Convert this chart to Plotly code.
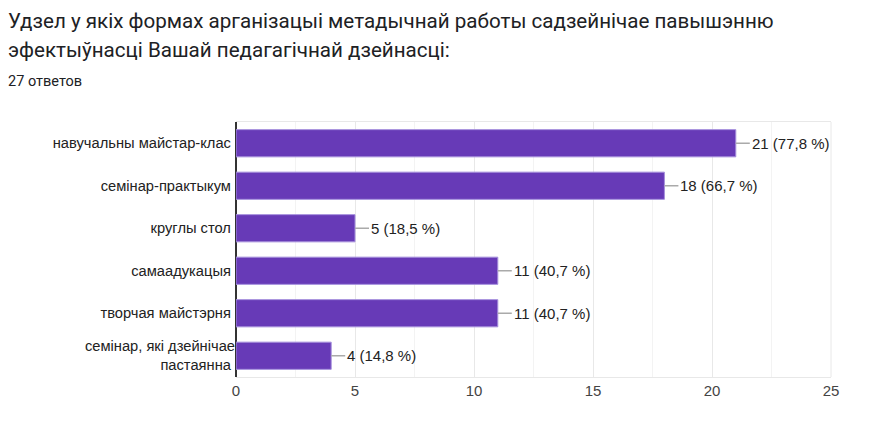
import plotly.graph_objs as go

categories = ['навучальны майстар-клас', 'семінар-практыкум', 'круглы стол',
              'самаадукацыя', 'творчая майстэрня', 'семінар, які дзейнічае<br>пастаянна']
counts = [21, 18, 5, 11, 11, 4]
percents = ['77,8', '66,7', '18,5', '40,7', '40,7', '14,8']
x_ticks = [0, 5, 10, 15, 20, 25]

# page body has an 8px margin, so the figure is sized to fit inside it
W, H = 855, 416
L, R, T, B = 228, 32, 114, 47
plot_w = W - L - R
plot_h = H - T - B

trace = go.Bar(x=counts, y=categories, orientation='h',
               marker=dict(color='#673ab7', line=dict(color='#a58fdc', width=1)),
               hoverinfo='skip')

anns = []
for c, cat, p in zip(counts, categories, percents):
    anns.append(dict(x=c, y=cat, xref='x', yref='y', text='%d (%s %%)' % (c, p),
                     showarrow=True, arrowhead=0, arrowwidth=1.5, arrowcolor='#aaaaaa',
                     ax=14, ay=0, xanchor='left', standoff=0, startstandoff=0,
                     font=dict(family='Liberation Sans, Arial', size=15, color='#222222')))

def py(px):
    # pixel row in the figure -> paper y
    return (H - B - px) / plot_h

x_left = (-L - 1) / plot_w
anns.append(dict(x=x_left, y=py(0), xref='paper', yref='paper', borderpad=0,
                 text='Удзел у якіх формах арганізацыі метадычнай работы садзейнічае павышэнню',
                 showarrow=False, xanchor='left', yanchor='top',
                 font=dict(family='Roboto', size=20.6, color='#202124')))
anns.append(dict(x=x_left, y=py(29), xref='paper', yref='paper', borderpad=0,
                 text='эфектыўнасці Вашай педагагічнай дзейнасці:',
                 showarrow=False, xanchor='left', yanchor='top',
                 font=dict(family='Roboto', size=20.6, color='#202124')))
anns.append(dict(x=x_left, y=py(64), xref='paper', yref='paper', borderpad=0,
                 text='27 ответов', showarrow=False, xanchor='left', yanchor='top',
                 font=dict(family='Roboto', size=14.5, color='#202124')))

layout = go.Layout(
    width=W, height=H,
    margin=dict(l=L, r=R, t=T, b=B),
    paper_bgcolor='white', plot_bgcolor='white',
    showlegend=False, bargap=0.36,
    font=dict(family='Liberation Sans, Arial', size=15, color='#222222'),
    xaxis=dict(range=[0, 25], tickvals=x_ticks, showgrid=True, gridcolor='#e8e8e8',
               minor=dict(dtick=2.5, showgrid=True, gridcolor='#f3f3f3'),
               zeroline=True, zerolinecolor='#333333', zerolinewidth=1.5,
               showline=True, linecolor='#e8e8e8', mirror=True,
               tickfont=dict(size=15, color='#444444'), ticks=''),
    yaxis=dict(autorange='reversed', showgrid=False, ticks='', ticksuffix=' ',
               tickfont=dict(size=14.7, color='#222222')),
    annotations=anns,
    shapes=[dict(type='line', xref='paper', yref='paper', x0=1, x1=1, y0=0, y1=1,
                 line=dict(color='#e8e8e8', width=1), layer='below')],
)

fig = go.Figure(data=[trace], layout=layout)
fig.write_html("out.html")
